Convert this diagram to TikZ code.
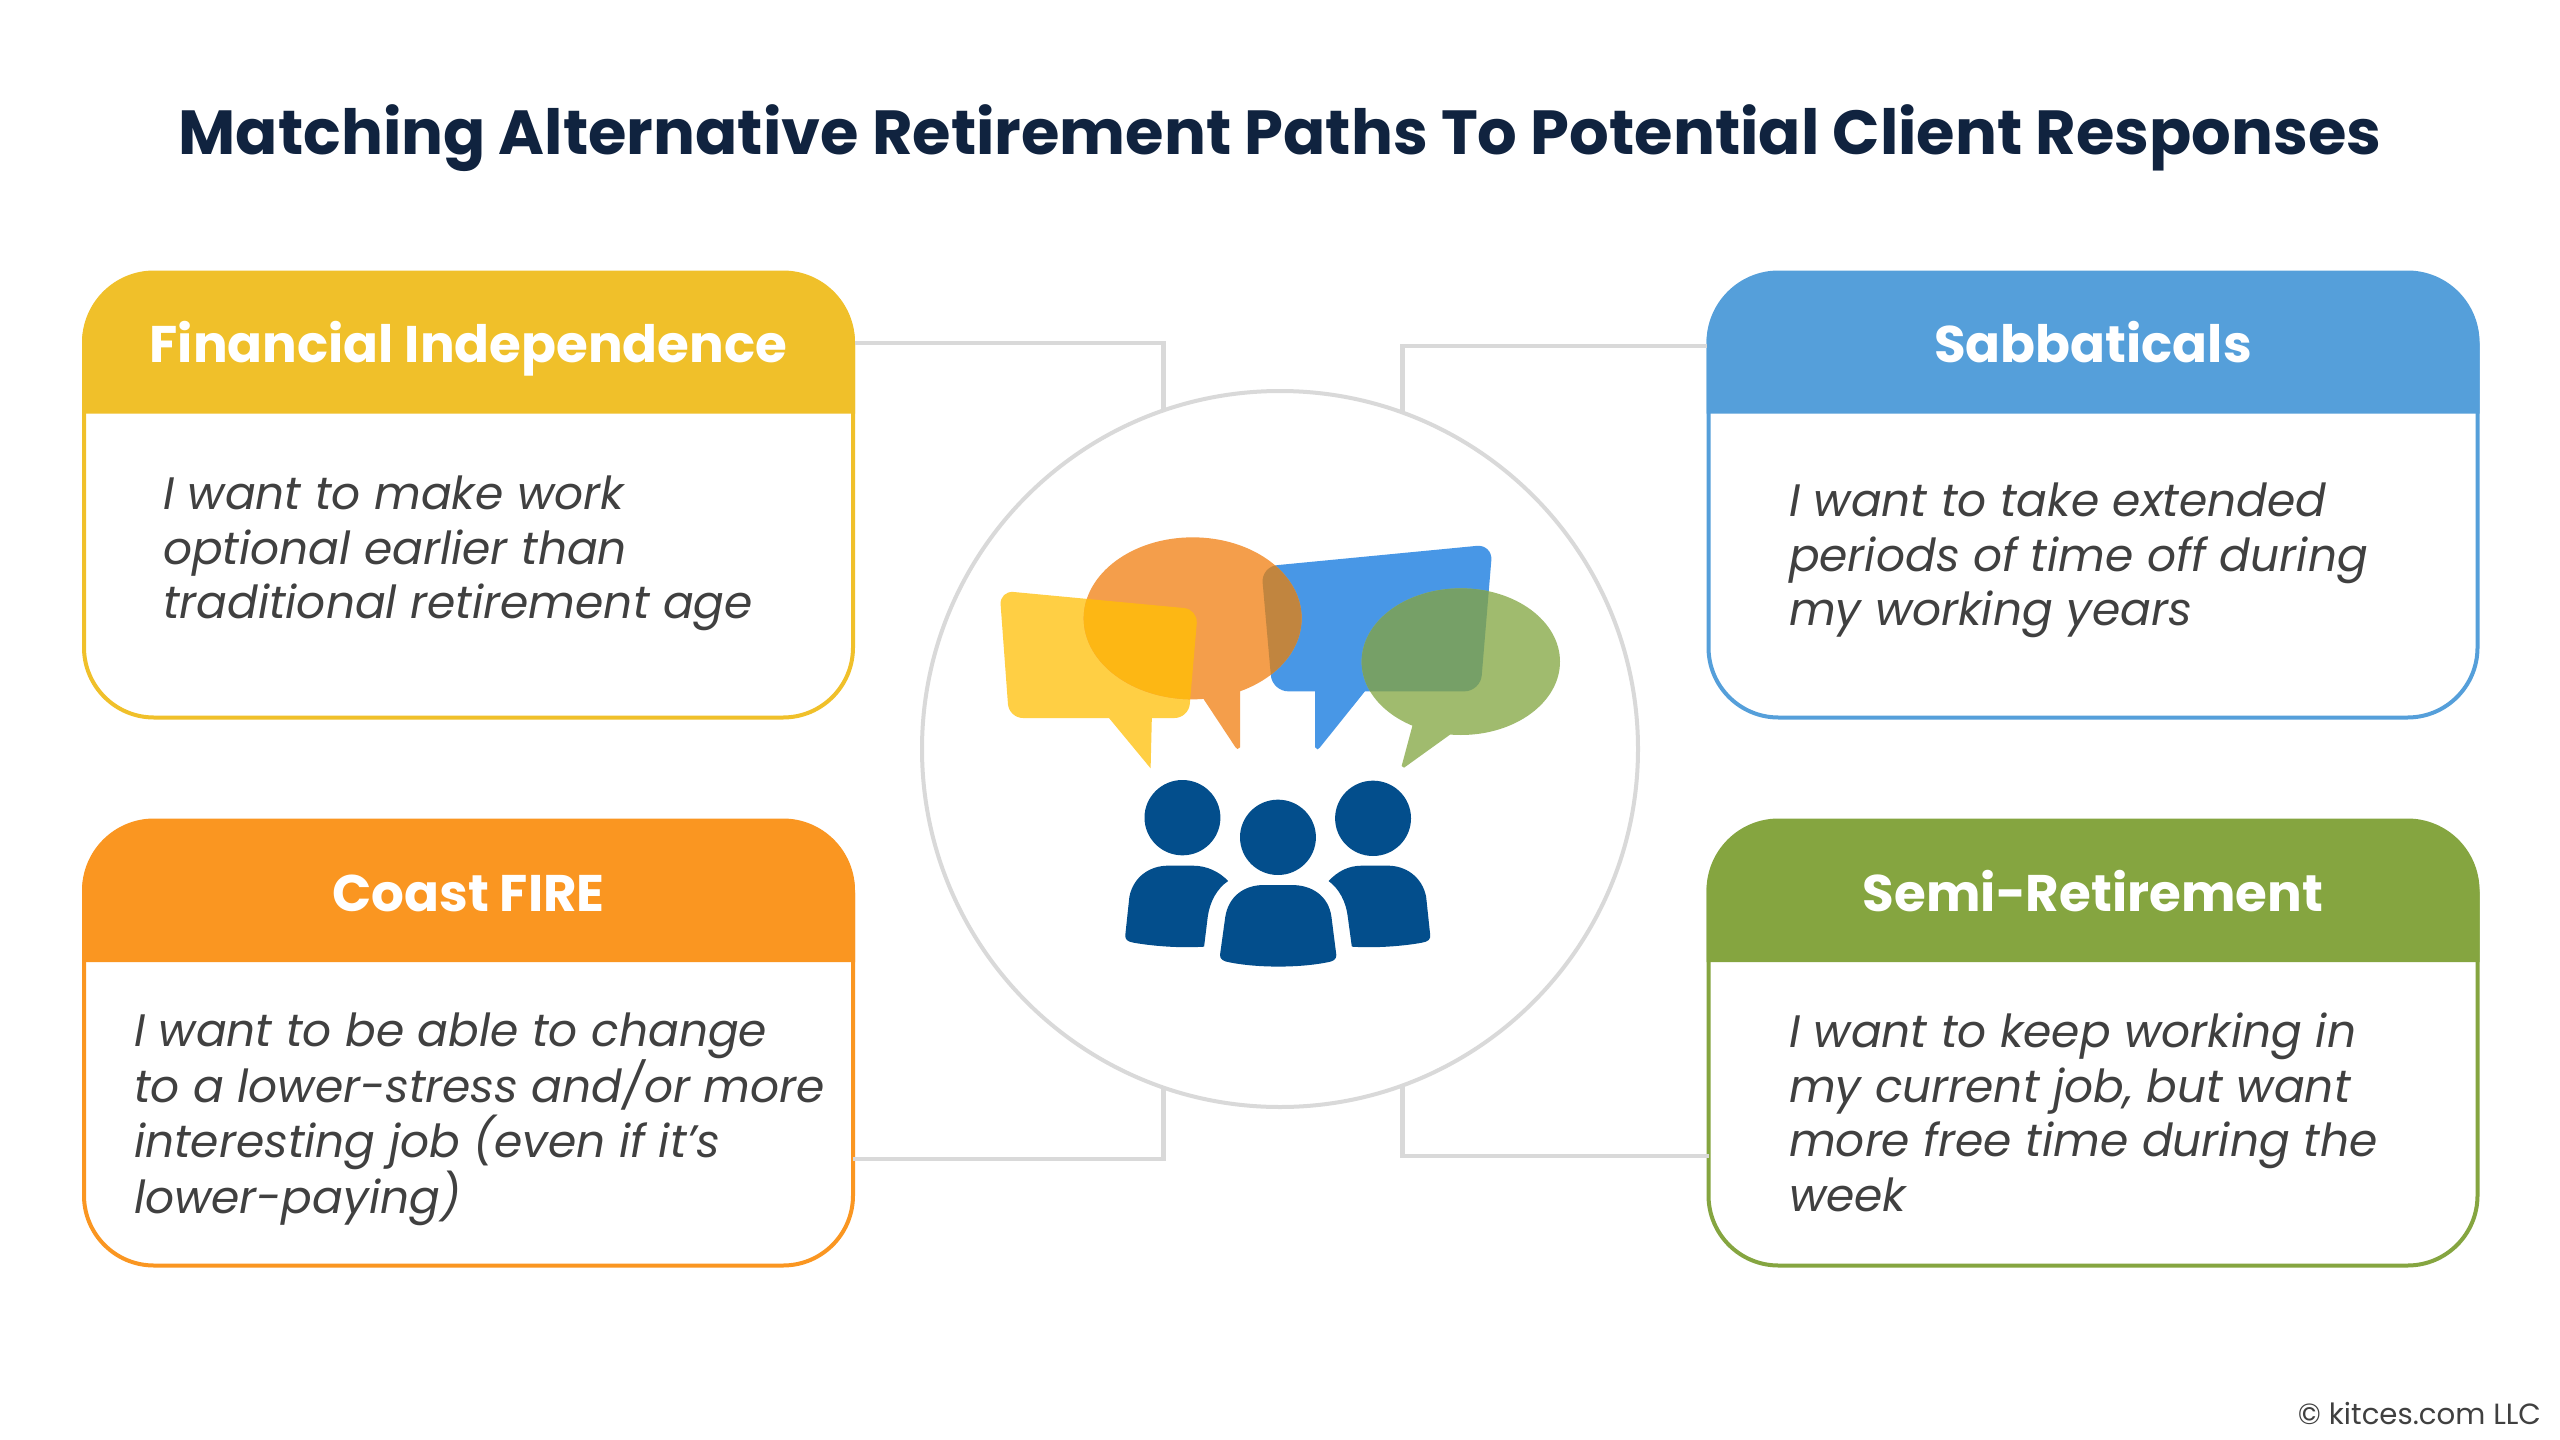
\documentclass[tikz,border=0pt]{standalone}
\usepackage{fontspec}
\setmainfont{Poppins}
\usepackage{xcolor}
\usetikzlibrary{calc}
\definecolor{titlenavy}{HTML}{10233F}
\definecolor{bodygray}{HTML}{404040}
\definecolor{linkgray}{HTML}{D9D9D9}
\definecolor{fiyellow}{HTML}{F0C02A}
\definecolor{sbblue}{HTML}{559FDA}
\definecolor{cforange}{HTML}{FA9621}
\definecolor{srgreen}{HTML}{85A540}
\definecolor{bubyellow}{HTML}{FFCF44}
\definecolor{buborange}{HTML}{F49E4B}
\definecolor{bubblue}{HTML}{4897E6}
\definecolor{bubgreen}{HTML}{A0BB6E}
\definecolor{mixamber}{HTML}{FDB714}
\definecolor{mixbrown}{HTML}{C1853F}
\definecolor{mixgreen}{HTML}{76A067}
\definecolor{peoplenavy}{HTML}{034E8C}

\newcommand{\bubyellowpath}{(365,654) [rounded corners=14pt] -- (120,654) -- (97,272) -- (583,328) -- (560,654) [sharp corners] -- (470,654) -- (467,805) -- cycle}
\newcommand{\buborangepath}{(570,355) ellipse [x radius=267, y radius=243] (593,590) -- (686,570) -- (686,742) -- (680,747) -- (675,742) -- cycle}
\newcommand{\bubbluepath}{(992,574) [rounded corners=16pt] -- (1275,574) -- (1305,133) -- (738,200) -- (765,574) [sharp corners] -- (870,574) -- (870,742) -- (876,748) -- (882,742) -- cycle}
\newcommand{\bubgreenpath}{(1227,485) ellipse [x radius=243, y radius=220] (1110,670) -- (1205,700) -- (1088,803) -- (1082,798) -- cycle}

\begin{document}
\begin{tikzpicture}[
  x=1pt, y=-1pt,
  every node/.style={inner sep=0pt, outer sep=0pt},
  card/.style={draw=#1, line width=4pt, rounded corners=70pt, fill=white,
    minimum width=769pt, minimum height=445pt},
  cardhead/.style={minimum width=773pt, minimum height=141pt, text=white,
    text height=48pt, text depth=9pt,
    font=\fontsize{51.5}{60}\selectfont\bfseries},
  cardtext/.style={anchor=north west, align=left, text=bodygray,
    font=\fontsize{45.5}{54.5}\selectfont\itshape},
  link/.style={draw=linkgray, line width=4.5pt},
  hubring/.style={circle, draw=linkgray, line width=4pt, minimum size=716pt}
]
\useasboundingbox (0,0) rectangle (2560,1440);
\fill[white] (0,0) rectangle (2560,1440);

\node (title) [text=titlenavy, font=\fontsize{62.3}{70}\selectfont\bfseries] at (1280,138)
  {Matching Alternative Retirement Paths To Potential Client Responses};

% cards
\node (fi) [card=fiyellow] at (468.5,495) {};
\node (sb) [card=sbblue] at (2093,495) {};
\node (cf) [card=cforange] at (468.5,1043) {};
\node (sr) [card=srgreen] at (2093,1043) {};

\node (fihead) [cardhead] at (468.5,343) {};
\node (sbhead) [cardhead] at (2093,343) {};
\node (cfhead) [cardhead] at (468.5,891.5) {};
\node (srhead) [cardhead] at (2093,891.5) {};

\foreach \cardname/\cardcol in {fihead/fiyellow,sbhead/sbblue,cfhead/cforange,srhead/srgreen}
  \fill[\cardcol] (\cardname.south west) [rounded corners=72pt] -- (\cardname.north west)
    -- (\cardname.north east) [sharp corners] -- (\cardname.south east) -- cycle;

\node (fititle) [cardhead] at (fihead) {Financial Independence};
\node (sbtitle) [cardhead] at (sbhead) {Sabbaticals};
\node (cftitle) [cardhead] at (cfhead) {Coast FIRE};
\node (srtitle) [cardhead] at (srhead) {Semi-Retirement};

\node (fitext) [cardtext] at (163,476) {I want to make work\\optional earlier than\\traditional retirement age};
\node (sbtext) [cardtext] at (1789,483) {I want to take extended\\periods of time off during\\my working years};
\node (cftext) [cardtext] at (134,1013) {I want to be able to change\\to a lower-stress and/or more\\interesting job (even if it’s\\lower-paying)};
\node (srtext) [cardtext] at (1789,1013) {I want to keep working in\\my current job, but want\\more free time during the\\week};

% center ring
\node (hub) [hubring] at (1280,749) {};
\draw[link] (fihead.east) -| (hub.109);
\draw[link] ([yshift=-3pt]sbhead.west) -| (hub.70);
\draw[link] ([yshift=-116pt]cf.east) -| (hub.-109);
\draw[link] ([yshift=-113pt]sr.west) -| (hub.-70);

% bubbles and people
\begin{scope}[shift={(960,500)}, x=0.40816pt, y=-0.33333pt]
  \fill[bubyellow] \bubyellowpath;
  \fill[bubblue] \bubbluepath;
  \fill[buborange] \buborangepath;
  \fill[bubgreen] \bubgreenpath;
  \begin{scope}
    \clip \bubyellowpath;
    \fill[mixamber] \buborangepath;
  \end{scope}
  \begin{scope}
    \clip \bubbluepath;
    \fill[mixbrown] \buborangepath;
    \fill[mixgreen] \bubgreenpath;
  \end{scope}
  \fill[peoplenavy] (545,953) ellipse [x radius=93, y radius=113];
  \fill[peoplenavy] (779,1012) ellipse [x radius=93, y radius=113];
  \fill[peoplenavy] (1012,955) ellipse [x radius=93, y radius=113];
  \fill[peoplenavy] (405,1305) -- (415,1190) .. controls (425,1130) and (465,1097) .. (510,1097)
    -- (570,1097) .. controls (605,1097) and (635,1115) .. (657,1143)
    .. controls (630,1165) and (612,1205) .. (607,1250) -- (598,1340)
    .. controls (540,1345) and (470,1338) .. (425,1328) .. controls (410,1325) and (404,1318) .. (405,1305) -- cycle;
  \fill[peoplenavy] (637,1365) -- (650,1250) .. controls (658,1190) and (695,1155) .. (745,1155)
    -- (812,1155) .. controls (865,1155) and (903,1190) .. (910,1250) -- (922,1365)
    .. controls (922,1378) and (915,1384) .. (900,1387) .. controls (830,1404) and (730,1404) .. (660,1387)
    .. controls (645,1384) and (637,1378) .. (637,1365) -- cycle;
  \fill[peoplenavy] (1152,1305) -- (1142,1190) .. controls (1132,1130) and (1092,1097) .. (1048,1097)
    -- (985,1097) .. controls (950,1097) and (925,1115) .. (903,1143)
    .. controls (928,1165) and (946,1205) .. (950,1250) -- (960,1340)
    .. controls (1018,1345) and (1088,1338) .. (1132,1328) .. controls (1147,1325) and (1153,1318) .. (1152,1305) -- cycle;
\end{scope}

\node (credit) [anchor=east, text=bodygray, font=\fontsize{29.2}{33}\selectfont] at (2541,1414) {© kitces.com LLC};
\end{tikzpicture}
\end{document}
